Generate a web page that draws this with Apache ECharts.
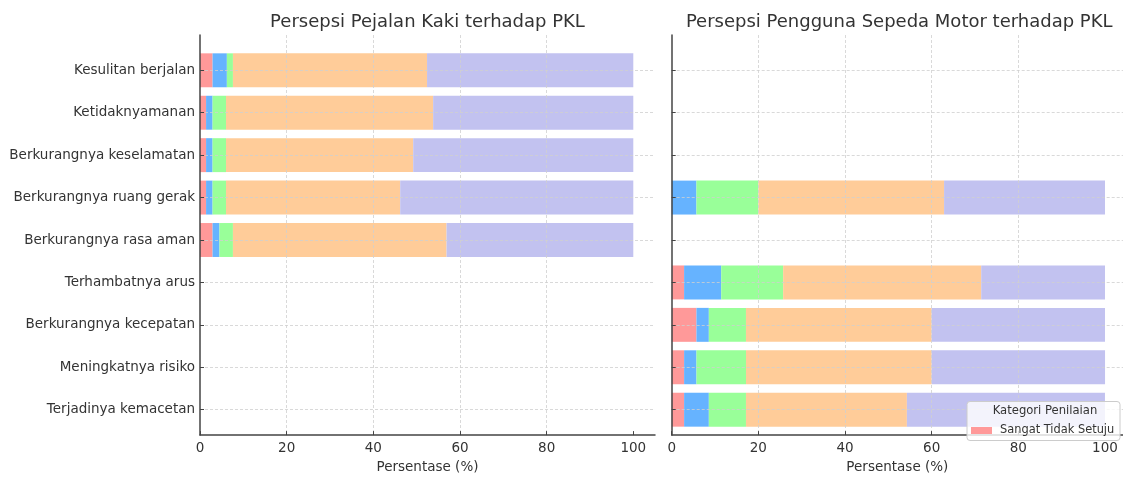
<!DOCTYPE html>
<html>
<head>
<meta charset="utf-8">
<script src="https://cdn.jsdelivr.net/npm/echarts@6/dist/echarts.min.js"></script>
<style>html,body{margin:0;padding:0;background:#fff}#c{width:1123px;height:479px}</style>
</head>
<body>
<div id="c"></div>
<script>
const categories = ['Kesulitan berjalan','Ketidaknyamanan','Berkurangnya keselamatan','Berkurangnya ruang gerak','Berkurangnya rasa aman','Terhambatnya arus','Berkurangnya kecepatan','Meningkatnya risiko','Terjadinya kemacetan'];
const seriesNames = ['Sangat Tidak Setuju','Tidak Setuju','Netral','Setuju','Sangat Setuju'];
const xTicks = [0, 20, 40, 60, 80, 100];
const titles = ['Persepsi Pejalan Kaki terhadap PKL','Persepsi Pengguna Sepeda Motor terhadap PKL'];
const xName = 'Persentase (%)';
const legendTitle = 'Kategori Penilaian';

// Pejalan kaki
const walkSTS = [2.9, 1.4, 1.4, 1.4, 2.9, null, null, null, null];
const walkTS  = [3.3, 1.5, 1.5, 1.5, 1.6, null, null, null, null];
const walkN   = [1.4, 3.1, 3.1, 3.1, 3.1, null, null, null, null];
const walkS   = [44.8, 47.8, 43.2, 40.2, 49.3, null, null, null, null];
const walkSS  = [47.6, 46.2, 50.8, 53.8, 43.1, null, null, null, null];

// Pengguna sepeda motor
const motorSTS = [null, null, null, 0, null, 2.86, 5.71, 2.86, 2.86];
const motorTS  = [null, null, null, 5.71, null, 8.57, 2.86, 2.86, 5.71];
const motorN   = [null, null, null, 14.29, null, 14.29, 8.57, 11.43, 8.57];
const motorS   = [null, null, null, 42.86, null, 45.71, 42.86, 42.86, 37.14];
const motorSS  = [null, null, null, 37.14, null, 28.57, 40.0, 40.0, 45.71];

const colors = ['#ff9999','#66b3ff','#99ff99','#ffcc99','#c2c2f0'];
const FONT = 'DejaVu Sans';
const TXT = '#333';
const SPINE = '#444';
const GRIDC = '#cfcfcf';

const PXPER = 433.3 / 100;  // pixels per percent
const panels = [
  {left: 200, width: 455, data: [walkSTS, walkTS, walkN, walkS, walkSS], stack: 'walk', labels: true},
  {left: 671.7, width: 451.3, data: [motorSTS, motorTS, motorN, motorS, motorSS], stack: 'motor', labels: false}
];
const FTOP = 35, FH = 409.3, DTOP = 70.3, DH = 339.4;

const grid = [], xAxis = [], yAxis = [], series = [], graphic = [];
panels.forEach((p, pi) => {
  const fi = pi * 2, di = pi * 2 + 1;
  const xmax = p.width / PXPER;
  grid.push({left: p.left, top: FTOP, width: p.width, height: FH, containLabel: false});
  grid.push({left: p.left, top: DTOP, width: p.width, height: DH, containLabel: false});
  xAxis.push({
    gridIndex: fi, type: 'value', min: 0, max: xmax, interval: 20, z: 3,
    axisLine: {show: true, onZero: false, lineStyle: {color: SPINE, width: 1.5}},
    axisTick: {show: true, inside: true, length: 4, customValues: xTicks, lineStyle: {color: SPINE, width: 1}},
    axisLabel: {show: true, customValues: xTicks, color: TXT, fontFamily: FONT, fontSize: 13.5, margin: 6},
    splitLine: {show: true, showMinLine: false, showMaxLine: false, lineStyle: {color: GRIDC, type: [3, 2], width: 0.8}},
    name: xName, nameLocation: 'middle', nameGap: 23,
    nameTextStyle: {color: TXT, fontFamily: FONT, fontSize: 13.5}
  });
  xAxis.push({gridIndex: di, type: 'value', min: 0, max: xmax, show: false});
  yAxis.push({
    gridIndex: fi, type: 'value', min: 0, max: 1, z: 4,
    axisLine: {show: true, onZero: false, lineStyle: {color: SPINE, width: 1.5}},
    axisTick: {show: false}, axisLabel: {show: false}, splitLine: {show: false}
  });
  yAxis.push({
    gridIndex: di, type: 'category', data: categories, inverse: true, boundaryGap: false, z: 3,
    axisLine: {show: false},
    axisTick: {show: true, inside: true, length: 4, interval: 0, lineStyle: {color: SPINE, width: 1}},
    axisLabel: {show: p.labels, interval: 0, color: TXT, fontFamily: FONT, fontSize: 13.5, margin: 5},
    splitLine: {show: true, interval: 0, lineStyle: {color: GRIDC, type: [3, 2], width: 0.8}}
  });
  p.data.forEach((arr, si) => {
    series.push({
      name: seriesNames[si], type: 'bar', stack: p.stack, xAxisIndex: di, yAxisIndex: di,
      data: arr, barWidth: '80%', clip: false,
      itemStyle: {color: colors[si]}, emphasis: {disabled: true}, animation: false
    });
  });
  graphic.push({
    type: 'text', x: p.left + 227.5, y: 22, z: 10,
    style: {text: titles[pi], fontFamily: FONT, fontSize: 18, fill: TXT, align: 'center', verticalAlign: 'middle'}
  });
});

graphic.push({
  type: 'rect', z: 20,
  shape: {x: 967, y: 401.5, width: 153, height: 39, r: 3},
  style: {fill: 'rgba(255,255,255,0.8)', stroke: '#cccccc', lineWidth: 1}
});
graphic.push({
  type: 'text', x: 1045, y: 411, z: 21,
  style: {text: legendTitle, fontFamily: FONT, fontSize: 11.6, fill: TXT, align: 'center', verticalAlign: 'middle'}
});

const chart = echarts.init(document.getElementById('c'), null, {renderer: 'canvas'});
chart.setOption({
  animation: false,
  backgroundColor: '#fff',
  grid, xAxis, yAxis, series, graphic,
  legend: {
    data: [seriesNames[0]], left: 971, top: 425, z: 30, padding: 0,
    icon: 'rect', itemWidth: 21, itemHeight: 7, selectedMode: false,
    textStyle: {color: TXT, fontFamily: FONT, fontSize: 11.4, padding: [0, 0, 0, 3]}
  },
  tooltip: {show: false}
});
</script>
</body>
</html>
